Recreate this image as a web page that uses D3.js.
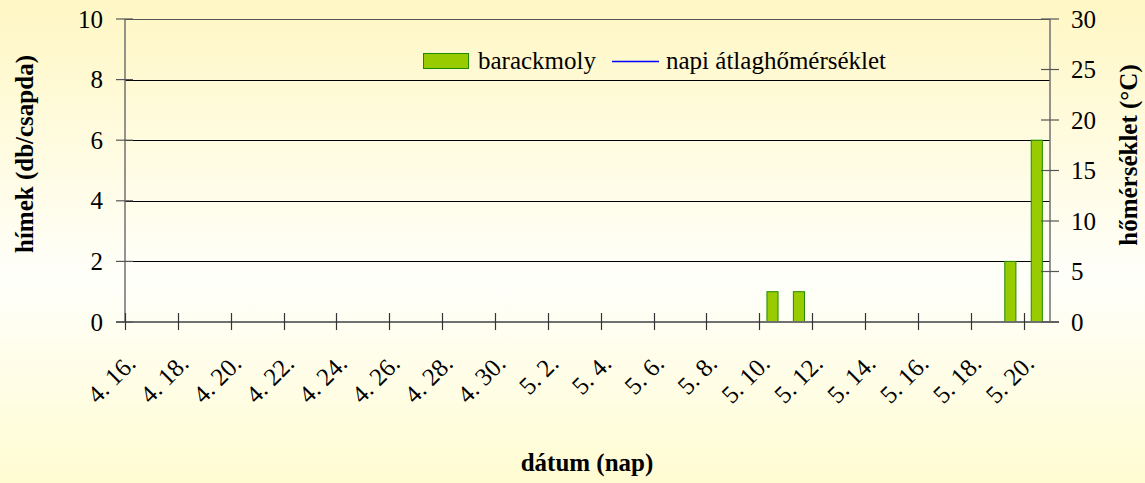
<!DOCTYPE html>
<html><head><meta charset="utf-8">
<script src="https://cdn.jsdelivr.net/npm/d3@7"></script>
<style>
html,body{margin:0;padding:0;background:#fffde0;}
svg{display:block;}
</style></head><body>
<svg id="chart" width="1145" height="483"></svg>
<script>
// ---- data ----
const dates = ["4. 16.","4. 17.","4. 18.","4. 19.","4. 20.","4. 21.","4. 22.","4. 23.","4. 24.","4. 25.","4. 26.","4. 27.","4. 28.","4. 29.","4. 30.",
  "5. 1.","5. 2.","5. 3.","5. 4.","5. 5.","5. 6.","5. 7.","5. 8.","5. 9.","5. 10.","5. 11.","5. 12.","5. 13.","5. 14.","5. 15.","5. 16.","5. 17.","5. 18.","5. 19.","5. 20."];
const barackmoly = [0,0,0,0,0,0,0,0,0,0,0,0,0,0,0, 0,0,0,0,0,0,0,0,0,1,1,0,0,0,0,0,0,0,2,6];
const napiAtlag = []; // no temperature values visible in the chart
const leftTicks = [0,2,4,6,8,10];
const rightTicks = [0,5,10,15,20,25,30];
const seriesNames = ["barackmoly","napi átlaghőmérséklet"];
const axisTitles = {left:"hímek (db/csapda)", right:"hőmérséklet (°C)", bottom:"dátum (nap)"};

// ---- layout ----
const W = 1145, H = 483;
const L = 125, R = 1050, T = 19, B = 322;
const FONT = "'Liberation Serif', 'Times New Roman', Times, 'DejaVu Serif', serif";
const svg = d3.select("#chart").attr("font-family", FONT);

const defs = svg.append("defs");
const grad = defs.append("linearGradient").attr("id","bg").attr("x1",0).attr("y1",0).attr("x2",0).attr("y2",1);
grad.append("stop").attr("offset","0%").attr("stop-color","#fff7c4");
grad.append("stop").attr("offset","58%").attr("stop-color","#fffffa");
grad.append("stop").attr("offset","100%").attr("stop-color","#fffcd2");
svg.append("rect").attr("width",W).attr("height",H).attr("fill","url(#bg)");

const x = d3.scaleBand().domain(dates).range([L,R]).paddingInner(0.58).paddingOuter(0.29);
const step = x.step();
const y = d3.scaleLinear().domain([0,10]).range([B,T]);
const y2 = d3.scaleLinear().domain([0,30]).range([B,T]);

// gridlines
svg.append("g").selectAll("line").data(leftTicks.filter(v=>v>0 && v<10)).join("line")
  .attr("x1",L).attr("x2",R).attr("y1",d=>Math.round(y(d))+0.5).attr("y2",d=>Math.round(y(d))+0.5)
  .attr("stroke","#000").attr("stroke-width",1);
// top border
svg.append("line").attr("x1",L).attr("x2",R).attr("y1",T+0.5).attr("y2",T+0.5).attr("stroke","#555").attr("stroke-width",1.2);

// bars
svg.append("g").selectAll("rect").data(dates.map((d,i)=>({d,v:barackmoly[i]})).filter(o=>o.v>0)).join("rect")
  .attr("x",o=>x(o.d)).attr("width",x.bandwidth())
  .attr("y",o=>y(o.v)).attr("height",o=>y(0)-y(o.v))
  .attr("fill","#99cc00").attr("stroke","#1f8a00").attr("stroke-width",1);

// temperature line (no data)
const line = d3.line().x((d,i)=>x(dates[i])+x.bandwidth()/2).y(d=>y2(d));
svg.append("path").datum(napiAtlag).attr("d",line).attr("fill","none").attr("stroke","#0000ff").attr("stroke-width",1.5);

// axes lines
svg.append("line").attr("x1",L).attr("x2",L).attr("y1",T).attr("y2",B).attr("stroke","#707070").attr("stroke-width",1.5);
svg.append("line").attr("x1",R).attr("x2",R).attr("y1",T).attr("y2",B).attr("stroke","#707070").attr("stroke-width",1.5);
svg.append("line").attr("x1",L-9).attr("x2",R+9).attr("y1",B).attr("y2",B).attr("stroke","#707070").attr("stroke-width",2);

// left axis ticks & labels
const gl = svg.append("g");
gl.selectAll("line").data(leftTicks).join("line")
  .attr("x1",L-9).attr("x2",L+8).attr("y1",d=>y(d)).attr("y2",d=>y(d)).attr("stroke","#555").attr("stroke-width",1.2);
gl.selectAll("text").data(leftTicks).join("text")
  .attr("x",103).attr("y",d=>y(d)).attr("dy","0.34em").attr("text-anchor","end")
  .attr("font-size",25).text(d=>d);

// right axis ticks & labels
const gr = svg.append("g");
gr.selectAll("line").data(rightTicks).join("line")
  .attr("x1",R-9).attr("x2",R+9).attr("y1",d=>y2(d)).attr("y2",d=>y2(d)).attr("stroke","#555").attr("stroke-width",1.2);
gr.selectAll("text").data(rightTicks).join("text")
  .attr("x",1071).attr("y",d=>y2(d)).attr("dy","0.34em").attr("text-anchor","start")
  .attr("font-size",25).text(d=>d);

// x ticks (at category boundaries, every second category)
const labelIdx = d3.range(0,dates.length,2);
svg.append("g").selectAll("line").data(labelIdx).join("line")
  .attr("x1",i=>Math.round(L+i*step)+0.5).attr("x2",i=>Math.round(L+i*step)+0.5)
  .attr("y1",B-9).attr("y2",B+8).attr("stroke","#333").attr("stroke-width",1.2);
svg.append("g").selectAll("text").data(labelIdx).join("text")
  .attr("transform",i=>`translate(${x(dates[i])+x.bandwidth()/2-1},${365}) rotate(-45)`)
  .attr("text-anchor","end").attr("font-size",25).text(i=>dates[i]);

// axis titles
svg.append("text").attr("transform","translate(33,154) rotate(-90)").attr("text-anchor","middle")
  .attr("font-size",25).attr("font-weight","bold").text(axisTitles.left);
svg.append("text").attr("transform","translate(1137,155) rotate(-90)").attr("text-anchor","middle")
  .attr("font-size",25).attr("font-weight","bold").text(axisTitles.right);
svg.append("text").attr("x",587).attr("y",471).attr("text-anchor","middle")
  .attr("font-size",25).attr("font-weight","bold").text(axisTitles.bottom);

// legend
const lg = svg.append("g");
lg.append("rect").attr("x",423.5).attr("y",53.5).attr("width",45).attr("height",15)
  .attr("fill","#99cc00").attr("stroke","#1f8a00").attr("stroke-width",1);
lg.append("text").attr("x",478).attr("y",68.5).attr("font-size",25).text(seriesNames[0]);
lg.append("line").attr("x1",612).attr("x2",659).attr("y1",61.5).attr("y2",61.5).attr("stroke","#0000ff").attr("stroke-width",1.5);
lg.append("text").attr("x",666).attr("y",68.5).attr("font-size",25).text(seriesNames[1]);
</script>
</body></html>
